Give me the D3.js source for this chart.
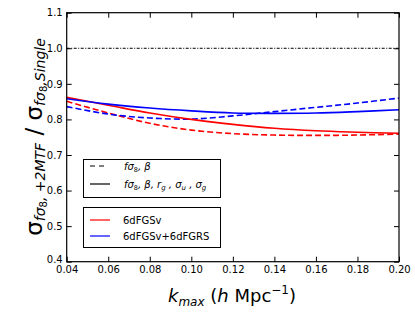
<!DOCTYPE html>
<html><head><meta charset="utf-8">
<script src="https://cdn.jsdelivr.net/npm/d3@7"></script>
<style>body{margin:0;background:#fff}svg{display:block}text{font-family:"DejaVu Sans",sans-serif}</style>
</head><body><svg id="c" width="415" height="312"></svg>
<script>
const kmax = [0.04,0.06,0.08,0.10,0.12,0.14,0.16,0.18,0.20];
const redSolid  = [0.862,0.840,0.818,0.800,0.786,0.775,0.768,0.764,0.761];
const blueSolid = [0.858,0.843,0.832,0.824,0.818,0.817,0.818,0.822,0.827];
const redDashed = [0.851,0.818,0.789,0.770,0.760,0.756,0.755,0.756,0.759];
const blueDashed= [0.836,0.815,0.804,0.801,0.810,0.822,0.834,0.846,0.860];
const xTicks = [0.04,0.06,0.08,0.10,0.12,0.14,0.16,0.18,0.20];
const yTicks = [0.4,0.5,0.6,0.7,0.8,0.9,1.0,1.1];

const svg = d3.select("#c");
const L=66.7,R=399,T=12.7,B=261.7;
const x = d3.scaleLinear().domain([0.04,0.20]).range([L,R]);
const y = d3.scaleLinear().domain([0.4,1.1]).range([B,T]);

// reference line
svg.append("line").attr("x1",L).attr("x2",R).attr("y1",y(1.0)).attr("y2",y(1.0))
  .attr("stroke","#000").attr("stroke-width",1).attr("stroke-dasharray","3,1.5,1,1.5");

const line = d3.line().x((d,i)=>x(kmax[i])).y(d=>y(d)).curve(d3.curveCatmullRom);
const series = [
  {v:redDashed,c:"#ff0000",d:"6,3"},
  {v:blueDashed,c:"#0000ff",d:"6,3"},
  {v:redSolid,c:"#ff0000",d:null},
  {v:blueSolid,c:"#0000ff",d:null}];
series.forEach(s=>{
  svg.append("path").attr("d",line(s.v)).attr("fill","none").attr("stroke",s.c)
    .attr("stroke-width",1.6).attr("stroke-dasharray",s.d);
});

// axes with inward ticks
const tl=5;
svg.append("g").attr("transform",`translate(0,${B})`)
  .call(d3.axisBottom(x).tickValues(xTicks).tickSize(-tl).tickPadding(4).tickFormat(d3.format(".2f")))
  .call(g=>{g.select(".domain").remove();g.selectAll("text").attr("font-size",10).attr("fill","#000");});
svg.append("g").attr("transform",`translate(0,${T})`)
  .call(d3.axisTop(x).tickValues(xTicks).tickSize(-tl).tickFormat(""))
  .call(g=>g.select(".domain").remove());
svg.append("g").attr("transform",`translate(${L},0)`)
  .call(d3.axisLeft(y).tickValues(yTicks).tickSize(-tl).tickPadding(4).tickFormat(d3.format(".1f")))
  .call(g=>{g.select(".domain").remove();g.selectAll("text").attr("font-size",10).attr("fill","#000");
    g.selectAll(".tick").filter(d=>d===0.4).select("text").attr("dy","0.05em");});
svg.append("g").attr("transform",`translate(${R},0)`)
  .call(d3.axisRight(y).tickValues(yTicks).tickSize(-tl).tickFormat(""))
  .call(g=>g.select(".domain").remove());
svg.selectAll(".tick line").attr("stroke","#000").attr("stroke-width",1);
svg.append("rect").attr("x",L).attr("y",T).attr("width",R-L).attr("height",B-T)
  .attr("fill","none").attr("stroke","#000").attr("stroke-width",1.2);

// legend 1
svg.append("rect").attr("x",83.5).attr("y",159.5).attr("width",137).attr("height",38).attr("fill","#fff").attr("stroke","#000");
svg.append("line").attr("x1",90).attr("x2",108).attr("y1",166).attr("y2",166).attr("stroke","#000").attr("stroke-width",1.2).attr("stroke-dasharray","5,4");
svg.append("line").attr("x1",90).attr("x2",110).attr("y1",184).attr("y2",184).attr("stroke","#000").attr("stroke-width",1.2);
function mtxt(xx,yy,parts){
  const t=svg.append("text").attr("x",xx).attr("y",yy).attr("font-size",10).attr("font-style","italic");
  parts.forEach(p=>{const s=t.append("tspan").text(p[0]);
    if(p[1])s.attr("font-size",p[1]); if(p[2]!==undefined)s.attr("dy",p[2]); if(p[3])s.attr("font-style","normal");});
  return t;
}
mtxt(124,169.5,[["fσ"],["8",6.5,2,true],[", β",null,-2]]);
mtxt(124,187.5,[["fσ"],["8",6.5,2,true],[", β, r",null,-2],["g",7,2],[" , σ",null,-2],["u",7,2],[" , σ",null,-2],["g",7,2]]);

// legend 2
svg.append("rect").attr("x",83.5).attr("y",207.5).attr("width",137).attr("height",40).attr("fill","#fff").attr("stroke","#000");
svg.append("line").attr("x1",90).attr("x2",110).attr("y1",220).attr("y2",220).attr("stroke","#ff0000").attr("stroke-width",1.2);
svg.append("line").attr("x1",90).attr("x2",110).attr("y1",236).attr("y2",236).attr("stroke","#0000ff").attr("stroke-width",1.2);
svg.append("text").attr("x",123).attr("y",223.5).attr("font-size",10).text("6dFGSv");
svg.append("text").attr("x",123).attr("y",239.5).attr("font-size",10).text("6dFGSv+6dFGRS");

// x label
const xl=svg.append("text").attr("x",232).attr("y",302).attr("text-anchor","middle").attr("font-size",18);
xl.append("tspan").attr("font-style","italic").text("k");
xl.append("tspan").attr("font-style","italic").attr("font-size",12).attr("dy",4).text("max");
xl.append("tspan").attr("dy",-4).text(" (");
xl.append("tspan").attr("font-style","italic").text("h");
xl.append("tspan").text(" Mpc");
xl.append("tspan").attr("font-size",12).attr("dy",-8).text("−1");
xl.append("tspan").attr("dy",8).text(")");

// y label
const yl=svg.append("text").attr("transform","translate(42,137) rotate(-90)").attr("text-anchor","middle").attr("font-size",23);
yl.append("tspan").text("σ");
yl.append("tspan").attr("font-style","italic").attr("font-size",14).attr("dy",3).text("fσ");
yl.append("tspan").attr("font-size",10).attr("dy",2).text("8");
yl.append("tspan").attr("font-style","italic").attr("font-size",14).attr("dy",-2).text(", +2MTF");
yl.append("tspan").attr("dy",-3).text(" / σ");
yl.append("tspan").attr("font-style","italic").attr("font-size",14).attr("dy",3).text("fσ");
yl.append("tspan").attr("font-size",10).attr("dy",2).text("8");
yl.append("tspan").attr("font-style","italic").attr("font-size",14).attr("dy",-2).text(",Single");
</script></body></html>
